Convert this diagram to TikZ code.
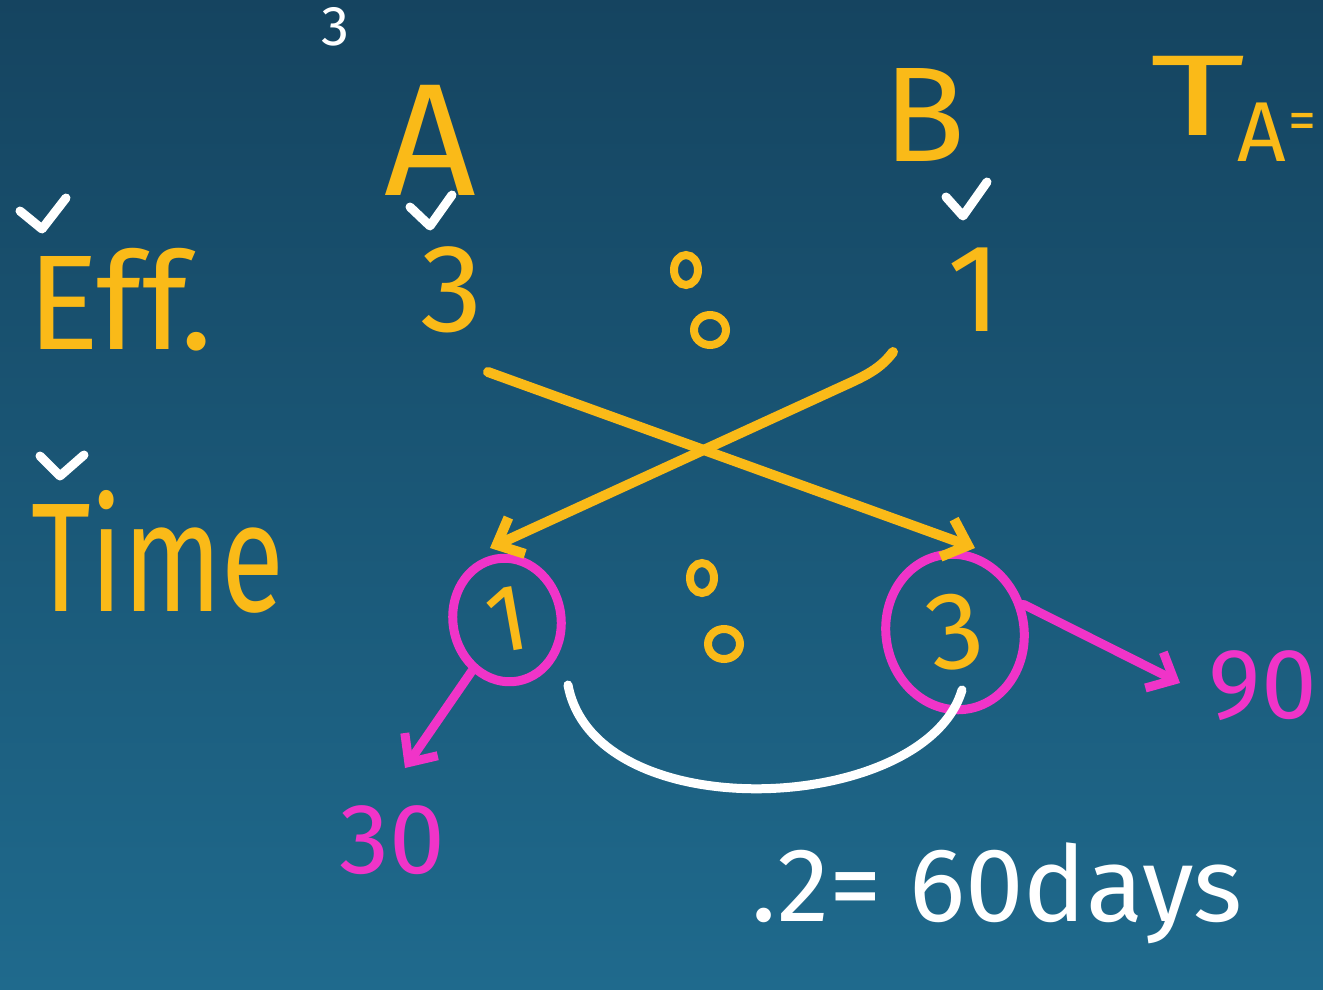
\documentclass[tikz,border=0pt]{standalone}
\usepackage{fontspec}
\setmainfont{Fira Sans}
\usetikzlibrary{arrows.meta,shapes.geometric}
\definecolor{bgtop}{RGB}{21,68,96}
\definecolor{bgbot}{RGB}{31,106,141}
\definecolor{chalkyellow}{RGB}{250,186,24}
\definecolor{chalkpink}{RGB}{240,52,200}
\newcommand{\myfs}[1]{\fontsize{#1}{#1}\selectfont}
\begin{document}
\begin{tikzpicture}[x=1pt,y=-1pt,
  ytext/.style={text=chalkyellow,inner sep=0pt},
  ptext/.style={text=chalkpink,inner sep=0pt},
  wtext/.style={text=white,inner sep=0pt},
  yline/.style={draw=chalkyellow,line width=10pt,line cap=round,line join=round},
  pline/.style={draw=chalkpink,line width=9pt,line cap=round,line join=round},
  wline/.style={draw=white,line width=9pt,line cap=round,line join=round},
  tickmark/.style={draw=white,line width=9pt,line cap=round,line join=round},
  barbtip/.style={-{Straight Barb[length=22pt,width=40pt]}},
  dotring/.style={draw=chalkyellow,line width=8pt},
  ring/.style={draw=chalkpink,line width=9pt,ellipse,inner sep=0pt,text=chalkyellow}]
\clip (0,0) rectangle (1323,990);
\shade[top color=bgtop,bottom color=bgbot] (0,0) rectangle (1323,990);

% small text at top edge
\node[wtext,font=\myfs{56}] (topthree) at (335,27) {3};

% headings
\node[ytext,font=\myfs{135}] (eff) at (120,300) {Eff.};
\node[ytext,font=\myfs{115}] (time) at (158,552) {\scalebox{1}[1.35]{Time}};
\node[ytext,font=\myfs{160}] (A) at (430,140) {A};
\node[ytext,font=\myfs{135}] (B) at (925,115) {B};
\node[ytext,font=\myfs{125}] (threeA) at (452,290) {3};
\node[ytext,font=\myfs{125}] (oneB) at (975,290) {1};
\node[ytext,font=\myfs{115}] (Tt) at (1198,96) {\scalebox{1.6}[1]{T}};
\node[ytext,font=\myfs{85}] (Ta) at (1262,132) {A};
\node[ytext,font=\myfs{56}] (Teq) at (1302,126) {=};

% tick marks
\draw[tickmark] (20,211) -- (42,229) -- (66,198);
\draw[tickmark] (410,207) -- (430,226) -- (452,195);
\draw[tickmark] (946,197) -- (963,216) -- (987,182);
\draw[tickmark] (40,456) -- (60,476) -- (84,455);

% ratio marks
\draw[dotring] (686,270) ellipse (12 and 15);
\draw[dotring] (710,330) ellipse (16 and 15);
\draw[dotring] (702,578) ellipse (12 and 15);
\draw[dotring] (724,644) ellipse (16 and 15);

% circled time values
\node[ring,font=\myfs{95},minimum width=108pt,minimum height=124pt,rotate=10] (c1) at (507,620) {1};
\node[ring,font=\myfs{110},minimum width=138pt,minimum height=156pt,rotate=10] (c3) at (955,632) {3};

% results
\node[ptext,font=\myfs{100}] (thirty) at (392,840) {30};
\node[ptext,font=\myfs{100}] (ninety) at (1263,686) {90};
\node[wtext,font=\myfs{105}] (days) at (997,893) {.2= 60days};

% yellow crossing arrows
\coordinate (y1s) at (488,372);
\coordinate (y1e) at (975,548);
\coordinate (y2s) at (893,352);
\coordinate (y2e) at (490,548);
\draw[yline,barbtip] (y1s) -- (y1e);
\draw[yline,barbtip] (y2s) .. controls (878,372) and (860,378) .. (830,392) -- (y2e);

% pink arrows
\coordinate (p1e) at (405,768);
\coordinate (p2e) at (1180,683);
\draw[pline,barbtip] (c1) -- (p1e);
\draw[pline,barbtip] (c3.12) -- (p2e);

% white arc between the circles
\coordinate (w1) at (568,685);
\coordinate (w2) at (962,690);
\draw[wline] (w1) .. controls (595,830) and (925,815) .. (w2);
\end{tikzpicture}
\end{document}
